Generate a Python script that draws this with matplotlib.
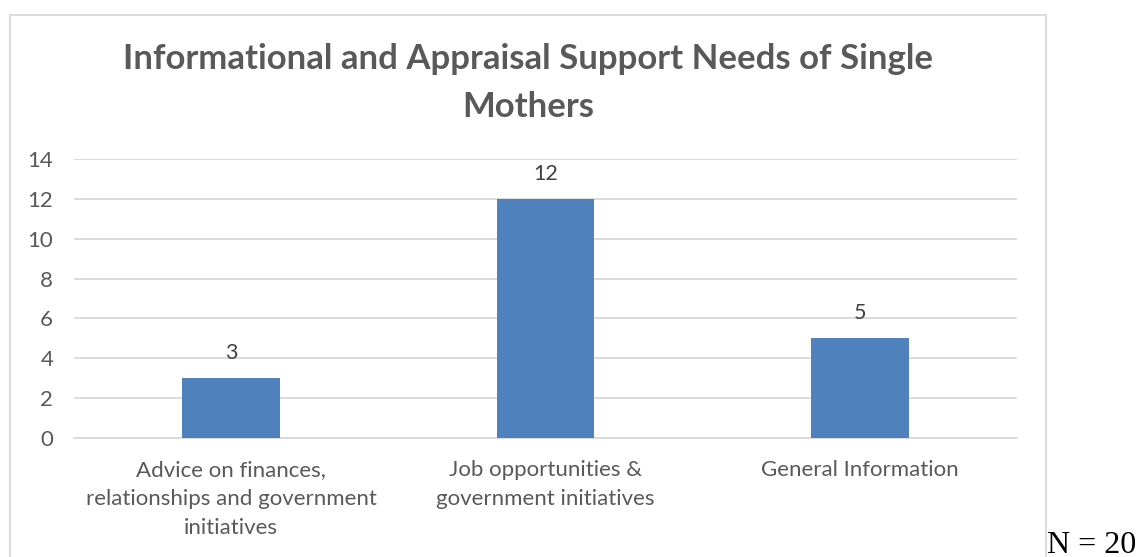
import matplotlib
matplotlib.use("Agg")
import matplotlib.pyplot as plt
from matplotlib.patches import Rectangle

categories = [
    "Advice on finances,\nrelationships and government\ninitiatives",
    "Job opportunities &\ngovernment initiatives",
    "General Information",
]
counts = [3, 12, 5]
yticks = [0, 2, 4, 6, 8, 10, 12, 14]
title = "Informational and Appraisal Support Needs of Single\nMothers"
note = "N = 20"

W, H = 1137, 557
TEXT = "#595959"
GRID = "#D9D9D9"
BAR = "#4F81BD"

plt.rcParams["font.family"] = ["Lato", "DejaVu Sans"]

fig = plt.figure(figsize=(W / 100, H / 100), dpi=100)
fig.patch.set_facecolor("white")

# chart frame
fig.patches.append(Rectangle((10 / W, -0.02), (1046 - 10) / W, (H - 15) / H + 0.02,
                             transform=fig.transFigure, fill=False,
                             edgecolor=GRID, linewidth=1.3))

x0, x1 = 74, 1017
y_top, y_bot = 159, 438
ax = fig.add_axes([x0 / W, (H - y_bot) / H, (x1 - x0) / W, (y_bot - y_top) / H])

xs = range(len(categories))
bars = ax.bar(xs, counts, width=0.31, color=BAR, zorder=3)
for b, v in zip(bars, counts):
    ax.annotate(str(v), (b.get_x() + b.get_width() / 2, v), xytext=(0, 11),
                textcoords="offset points", ha="center", va="bottom",
                fontsize=15.5, color="#404040")

ax.set_xlim(-0.5, len(categories) - 0.5)
ax.set_ylim(0, 14)
ax.set_yticks(yticks)
ax.yaxis.grid(True, color=GRID, linewidth=1.3, zorder=0)
ax.set_axisbelow(True)
for s in ["top", "right", "left"]:
    ax.spines[s].set_visible(False)
ax.spines["bottom"].set_color(GRID)
ax.spines["bottom"].set_linewidth(1.3)
ax.tick_params(axis="y", length=0, pad=15, labelsize=16, labelcolor=TEXT)
ax.tick_params(axis="x", length=0, pad=16, labelsize=16, labelcolor=TEXT)
ax.set_xticks(list(xs))
ax.set_xticklabels(categories, linespacing=1.55)

fig.text(528 / W, 1 - 83 / H, title, ha="center", va="center",
         fontsize=25, fontweight="bold", color=TEXT, linespacing=1.6)

fig.text(1047 / W, 1 - 553 / H, note, ha="left", va="baseline",
         fontsize=23, color="black", family=["Liberation Serif"])

fig.savefig("out.png", dpi=100, facecolor="white")
